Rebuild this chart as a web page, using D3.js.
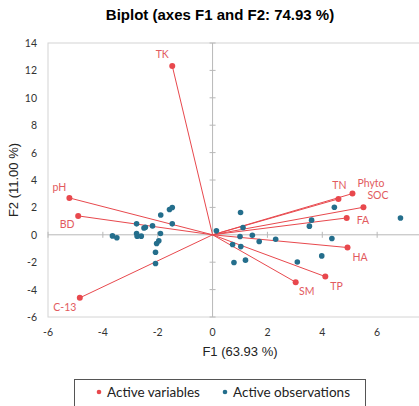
<!DOCTYPE html>
<html>
<head>
<meta charset="utf-8">
<script src="https://cdn.jsdelivr.net/npm/d3@7"></script>
<style>
  body { margin: 0; background: #fff; }
  svg { display: block; }
</style>
</head>
<body>
<div id="viz"></div>
<script>
// variable loadings (F1, F2)
let varNames = ["TK", "pH", "BD", "C-13", "TN", "Phyto", "SOC", "FA", "HA", "TP", "SM"];
let varF1 = [-1.47, -5.22, -4.9, -4.84, 4.59, 5.1, 5.5, 4.89, 4.92, 4.11, 3.03];
let varF2 = [12.33, 2.69, 1.38, -4.6, 2.62, 3.01, 2.01, 1.23, -0.93, -3.05, -3.46];

// observation scores (F1, F2)
let obsF1 = [-3.65, -3.49, -2.77, -2.77, -2.75, -2.6, -2.5, -2.45, -2.19, -1.89, -1.57, -1.47, -1.47,
  -1.9, -1.96, -2.04, -2.08, -2.08, 0.14, 1.02, 1.11, 1.0, 1.45, 1.7, 2.3, 0.73, 1.03, 0.78, 1.2,
  3.09, 3.98, 4.35, 3.53, 3.61, 4.44, 6.85];
let obsF2 = [-0.08, -0.22, 0.8, 0.09, -0.1, -0.1, 0.5, 0.55, 0.65, 1.45, 1.85, 1.99, 0.8,
  0.09, -0.44, -0.64, -1.27, -2.1, 0.29, 1.63, 0.53, -0.12, -0.03, -0.49, -0.32, -0.71, -0.86, -2.02, -1.85,
  -1.98, -1.54, -0.27, 0.63, 1.07, 2.01, 1.23];

let xTicks = [-6, -4, -2, 0, 2, 4, 6];
let yTicks = [-6, -4, -2, 0, 2, 4, 6, 8, 10, 12, 14];

let width = 419, height = 406;
let red = "#e8484d", blue = "#246e8c", labelRed = "#e25a5e";

let svg = d3.select("#viz").append("svg")
  .attr("width", width)
  .attr("height", height);

// plot runs to F1 = 8, past the right edge of the picture
let x = d3.scaleLinear().domain([-6, 8]).range([48, 432]);
let y = d3.scaleLinear().domain([-6, 14]).range([317, 43]);

// title
svg.append("text")
  .attr("x", 220).attr("y", 20)
  .attr("text-anchor", "middle")
  .attr("font-family", "Liberation Sans, Arial, sans-serif")
  .attr("font-weight", "bold")
  .attr("font-size", 15)
  .text("Biplot (axes F1 and F2: 74.93 %)");

// frame
let frame = svg.append("g").attr("stroke", "#d4d4d4").attr("fill", "none");
frame.append("rect")
  .attr("x", x(-6)).attr("y", y(14))
  .attr("width", x(8) - x(-6)).attr("height", y(-6) - y(14));

// zero lines
let zero = svg.append("g").attr("stroke", "#b8b8b8");
zero.append("line").attr("x1", x(-6)).attr("x2", x(8)).attr("y1", y(0)).attr("y2", y(0));
zero.append("line").attr("x1", x(0)).attr("x2", x(0)).attr("y1", y(14)).attr("y2", y(-6));
zero.selectAll(".ty").data(yTicks).join("line")
  .attr("x1", x(0) - 3).attr("x2", x(0) + 3)
  .attr("y1", d => y(d)).attr("y2", d => y(d));
zero.selectAll(".tx").data(xTicks).join("line")
  .attr("x1", d => x(d)).attr("x2", d => x(d))
  .attr("y1", y(0) - 3).attr("y2", y(0) + 3);

// tick labels
let tickFont = "Lato, Open Sans, sans-serif";
svg.append("g").selectAll("text").data(yTicks).join("text")
  .attr("x", 37).attr("y", d => y(d) + 4)
  .attr("text-anchor", "end")
  .attr("font-family", tickFont).attr("font-size", 10.5).attr("fill", "#333")
  .text(d => d);
svg.append("g").selectAll("text").data(xTicks).join("text")
  .attr("x", d => x(d)).attr("y", 336)
  .attr("text-anchor", "middle")
  .attr("font-family", tickFont).attr("font-size", 10.5).attr("fill", "#333")
  .text(d => d);

// axis titles
svg.append("text")
  .attr("x", 240).attr("y", 356)
  .attr("text-anchor", "middle")
  .attr("font-family", "Liberation Sans, Arial, sans-serif")
  .attr("font-size", 13).attr("fill", "#222")
  .text("F1 (63.93 %)");
svg.append("text")
  .attr("transform", `translate(18,${y(4)}) rotate(-90)`)
  .attr("text-anchor", "middle")
  .attr("font-family", "Liberation Sans, Arial, sans-serif")
  .attr("font-size", 13).attr("fill", "#222")
  .text("F2 (11.00 %)");

// variables
let vars = varNames.map((n, i) => ({ name: n, f1: varF1[i], f2: varF2[i] }));
let labelOffset = {
  "TK": [-10, -8, "middle"], "pH": [-10, -7, "middle"], "BD": [-11, 12, "middle"],
  "C-13": [-15, 13, "middle"], "TN": [1, -10, "middle"], "Phyto": [5, -7, "start"],
  "SOC": [4, -8, "start"], "FA": [10, 6, "start"], "HA": [5, 13, "start"],
  "TP": [5, 13, "start"], "SM": [11, 13, "middle"]
};

svg.append("g").selectAll("line").data(vars).join("line")
  .attr("x1", x(0)).attr("y1", y(0))
  .attr("x2", d => x(d.f1)).attr("y2", d => y(d.f2))
  .attr("stroke", red).attr("stroke-width", 1);

// observations
let obs = obsF1.map((v, i) => ({ f1: v, f2: obsF2[i] }));
svg.append("g").selectAll("circle").data(obs).join("circle")
  .attr("cx", d => x(d.f1)).attr("cy", d => y(d.f2))
  .attr("r", 2.8).attr("fill", blue);

svg.append("g").selectAll("circle").data(vars).join("circle")
  .attr("cx", d => x(d.f1)).attr("cy", d => y(d.f2))
  .attr("r", 3).attr("fill", red);

svg.append("g").selectAll("text").data(vars).join("text")
  .attr("x", d => x(d.f1) + labelOffset[d.name][0])
  .attr("y", d => y(d.f2) + labelOffset[d.name][1])
  .attr("text-anchor", d => labelOffset[d.name][2])
  .attr("font-family", tickFont).attr("font-size", 10.5).attr("fill", labelRed)
  .text(d => d.name);

// legend
let legend = svg.append("g");
legend.append("rect")
  .attr("x", 74.5).attr("y", 379.5).attr("width", 291).attr("height", 30)
  .attr("fill", "#fff").attr("stroke", "#555");
legend.append("circle").attr("cx", 99).attr("cy", 392).attr("r", 2.3).attr("fill", red);
legend.append("text").attr("x", 107).attr("y", 397)
  .attr("font-family", tickFont).attr("font-size", 13.5).attr("fill", "#222")
  .text("Active variables");
legend.append("circle").attr("cx", 225).attr("cy", 392).attr("r", 2.3).attr("fill", blue);
legend.append("text").attr("x", 233).attr("y", 397)
  .attr("font-family", tickFont).attr("font-size", 13.5).attr("fill", "#222")
  .text("Active observations");
</script>
</body>
</html>
